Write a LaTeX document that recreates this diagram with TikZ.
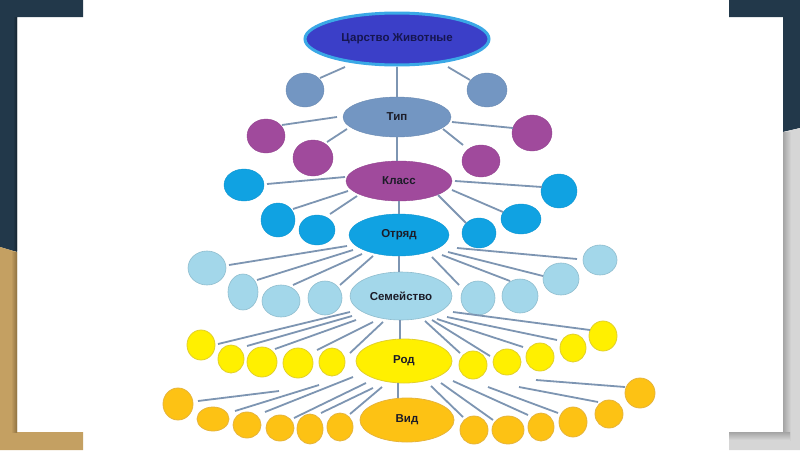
\documentclass[tikz,border=0pt]{standalone}
\usepackage{fontspec}
\setmainfont{Liberation Sans}
\usetikzlibrary{shapes.geometric,calc}
\definecolor{slate}{HTML}{22384A}
\definecolor{slatedk}{HTML}{16242F}
\definecolor{tan}{HTML}{C4A062}
\definecolor{tandk}{HTML}{8E7140}
\definecolor{shgray}{HTML}{D6D6D6}
\definecolor{shgraydk}{HTML}{A4A4A4}
\definecolor{kfill}{HTML}{3B3FC8}
\definecolor{kborder}{HTML}{3AA8E6}
\definecolor{ktext}{HTML}{161650}
\definecolor{steel}{HTML}{7396C2}
\definecolor{purp}{HTML}{A04A9C}
\definecolor{sky}{HTML}{10A2E2}
\definecolor{pale}{HTML}{A3D7EA}
\definecolor{yel}{HTML}{FFF000}
\definecolor{yelb}{HTML}{E2D02A}
\definecolor{gold}{HTML}{FDC214}
\definecolor{goldb}{HTML}{E6B43A}
\definecolor{linec}{HTML}{7D95B2}
\definecolor{txt}{HTML}{1C1C28}
\tikzset{
  bub/.style n args={2}{ellipse, inner sep=0pt, minimum width=#1pt, minimum height=#2pt},
  lbl/.style={font=\fontsize{11.5}{13}\selectfont\bfseries, text=txt},
  cstee/.style={fill=steel, draw=steel!92!black, line width=0.4pt},
  cpurp/.style={fill=purp, draw=purp!92!black, line width=0.4pt},
  csky/.style={fill=sky, draw=sky!92!black, line width=0.4pt},
  cpale/.style={fill=pale, draw=pale!88!black, line width=0.6pt},
  cyel/.style={fill=yel, draw=yelb, line width=0.8pt},
  cgold/.style={fill=gold, draw=goldb, line width=0.8pt},
  conn/.style={draw=linec, line width=1.8pt},
}
\begin{document}
\begin{tikzpicture}[x=1pt,y=-1pt]
\useasboundingbox (0,0) rectangle (800,450);
% background frame
\fill[white] (0,0) rectangle (800,450);
\fill[slate] (0,0) -- (83,0) -- (83,17) -- (17,17) -- (17,252) -- (0,247) -- cycle;
\fill[slate] (729,0) -- (800,0) -- (800,128) -- (783,132) -- (783,17) -- (729,17) -- cycle;
\fill[tan] (0,247) -- (17,252) -- (17,432) -- (83,432) -- (83,450) -- (0,450) -- cycle;
\shade[left color=tan, right color=tandk] (11,252) rectangle (17,432);
\shade[left color=slate, right color=slatedk] (13,17) rectangle (17,250);
\fill[shgray] (783,132) -- (800,128) -- (800,450) -- (729,450) -- (729,432) -- (783,432) -- cycle;
\shade[left color=shgraydk, right color=shgray] (783,132) rectangle (791,440);
\shade[top color=shgraydk, bottom color=shgray] (729,432) rectangle (790,440);

% main ellipses
\node[bub={184}{52}, fill=kfill, draw=kborder, line width=3pt, font=\fontsize{11.5}{13}\selectfont\bfseries, text=ktext] (K) at (397,39) {Царство Животные};
\node[bub={108}{40}, cstee, lbl] (T) at (397,117) {Тип};
\node[bub={106}{40}, cpurp, lbl] (C) at (399,181) {Класс};
\node[bub={100}{42}, csky, lbl] (Ord) at (399,235) {Отряд};
\node[bub={102}{48}, cpale, lbl] (S) at (401,296) {Семейство};
\node[bub={96}{44}, cyel, lbl] (R) at (404,361) {Род};
\node[bub={94}{44}, cgold, lbl] (V) at (407,420) {Вид};

% small circles
\foreach \n/\x/\y/\w/\h in {T1L/305/90/38/34, T1R/487/90/40/34}
  \node[bub={\w}{\h}, cstee] (\n) at (\x,\y) {};
\foreach \n/\x/\y/\w/\h in {P1/266/136/38/34, P2/313/158/40/36, P3/481/161/38/32, P4/532/133/40/36}
  \node[bub={\w}{\h}, cpurp] (\n) at (\x,\y) {};
\foreach \n/\x/\y/\w/\h in {B1/244/185/40/32, B2/278/220/34/34, B3/317/230/36/30, B4/479/233/34/30, B5/521/219/40/30, B6/559/191/36/34}
  \node[bub={\w}{\h}, csky] (\n) at (\x,\y) {};
\foreach \n/\x/\y/\w/\h in {L1/207/268/38/34, L2/243/292/30/36, L3/281/301/38/32, L4/325/298/34/34, L5/478/298/34/34, L6/520/296/36/34, L7/561/279/36/32, L8/600/260/34/30}
  \node[bub={\w}{\h}, cpale] (\n) at (\x,\y) {};
\foreach \n/\x/\y/\w/\h in {Y1/201/345/28/30, Y2/231/359/26/28, Y3/262/362/30/30, Y4/298/363/30/30, Y5/332/362/26/28, Y6/473/365/28/28, Y7/507/362/28/26, Y8/540/357/28/28, Y9/573/348/26/28, Y10/603/336/28/30}
  \node[bub={\w}{\h}, cyel] (\n) at (\x,\y) {};
\foreach \n/\x/\y/\w/\h in {G1/178/404/30/32, G2/213/419/32/24, G3/247/425/28/26, G4/280/428/28/26, G5/310/429/26/30, G6/340/427/26/28, G7/474/430/28/28, G8/508/430/32/28, G9/541/427/26/28, G10/573/422/28/30, G11/609/414/28/28, G12/640/393/30/30}
  \node[bub={\w}{\h}, cgold] (\n) at (\x,\y) {};

% vertical spine
\draw[conn] (K.south) -- (K.south |- T.north);
\draw[conn] (T.south) -- (T.south |- C.north);
\draw[conn] (Ord.north |- C.south) -- (Ord.north);
\draw[conn] (Ord.south) -- (Ord.south |- S.north);
\draw[conn] ($(S.south)+(-1,0)$) -- ($(S.south |- R.north)+(-1,0)$);
\draw[conn] ($(R.south)+(-6,0)$) -- ($(R.south |- V.north)+(-6,0)$);

% connectors parent -> child with offsets
\foreach \c/\a/\b/\d/\e in {T1L/-52/28/15/-12, T1R/51/28/-17/-10}
  \draw[conn] ($(K)+(\a,\b)$) -- ($(\c)+(\d,\e)$);
\foreach \c/\a/\b/\d/\e in {P1/-60/0/16/-11, P2/-50/12/14/-16, P3/46/12/-18/-16, P4/55/5/-19/-5}
  \draw[conn] ($(T)+(\a,\b)$) -- ($(\c)+(\d,\e)$);
\foreach \c/\a/\b/\d/\e in {B1/-54/-4/23/-1, B2/-51/10/15/-11, B3/-42/15/13/-16, B4/39/14/-13/-10, B5/53/9/-18/-7, B6/56/0/-17/-4}
  \draw[conn] ($(C)+(\a,\b)$) -- ($(\c)+(\d,\e)$);
\foreach \c/\a/\b/\d/\e in {L1/-52/11/22/-3, L2/-46/15/14/-12, L3/-37/19/12/-16, L4/-26/21/15/-13, L5/33/22/-19/-13, L6/43/20/-10/-15, L7/49/17/-18/-3, L8/58/13/-23/-1}
  \draw[conn] ($(Ord)+(\a,\b)$) -- ($(\c)+(\d,\e)$);
\foreach \c/\a/\b/\d/\e in {Y1/-51/16/17/-1, Y2/-49/20/16/-13, Y3/-45/24/13/-13, Y4/-28/26/19/-13, Y5/-18/26/18/-9, Y6/24/25/-13/-12, Y7/31/24/-17/-6, Y8/36/23/-17/-10, Y9/46/21/-16/-8, Y10/52/16/-13/-6}
  \draw[conn] ($(S)+(\a,\b)$) -- ($(\c)+(\d,\e)$);
\foreach \c/\a/\b/\d/\e in {G1/-125/30/20/-3, G2/-85/24/22/-8, G3/-51/16/18/-13, G4/-38/22/14/-10, G5/-31/27/11/-16, G6/-22/26/10/-13, G7/27/25/-11/-13, G8/37/22/-15/-10, G9/49/20/-13/-12, G10/84/26/-15/-9, G11/115/26/-11/-12, G12/132/19/-15/-6}
  \draw[conn] ($(R)+(\a,\b)$) -- ($(\c)+(\d,\e)$);
\end{tikzpicture}
\end{document}
